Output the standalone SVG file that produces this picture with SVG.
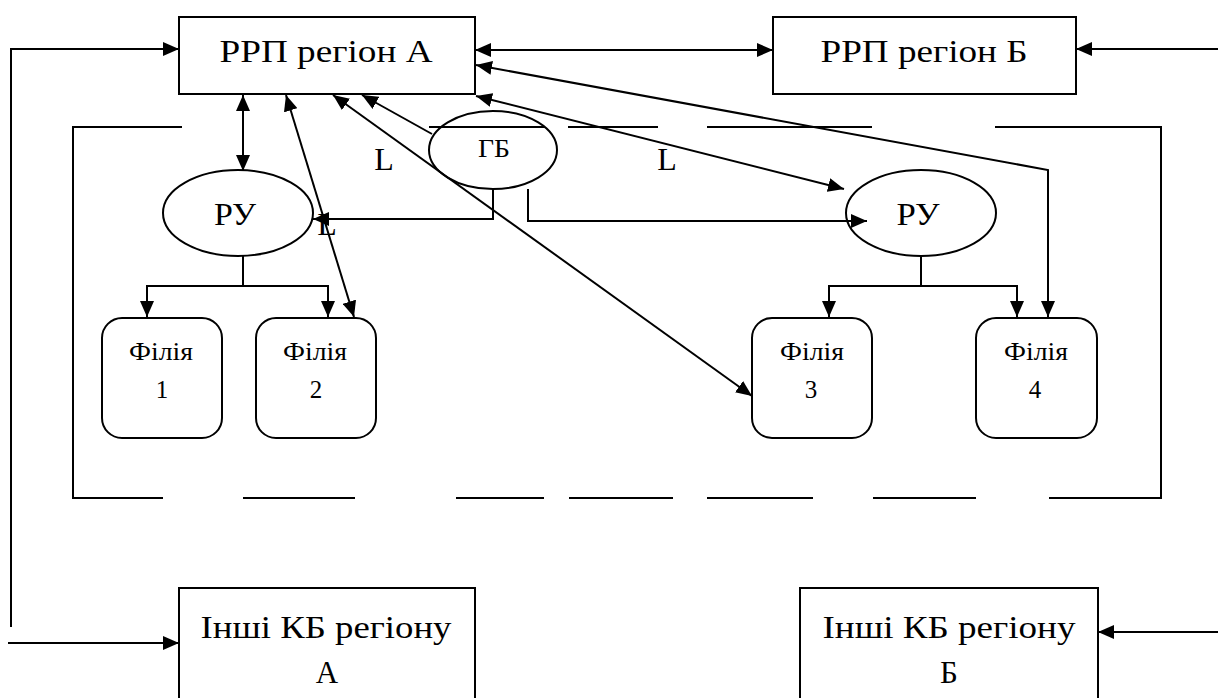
<svg xmlns="http://www.w3.org/2000/svg" width="1218" height="698" viewBox="0 0 1218 698" font-family="'Liberation Serif', 'Times New Roman', serif">
  <style>
    .box { fill: #fff; stroke: #000; stroke-width: 2; }
    .oval { fill: none; stroke: #000; stroke-width: 2; }
    .frame { fill: none; stroke: #000; stroke-width: 2; }
    .ln { fill: none; stroke: #000; stroke-width: 2; }
    .arr { marker-end: url(#ah); }
    .arr2 { marker-start: url(#ah); marker-end: url(#ah); }
    .arrS { marker-start: url(#ah); }
    text { font-family: "Liberation Serif", "Times New Roman", serif; fill: #000; text-anchor: middle; }
    .big { font-size: 32px; }
    .mid { font-size: 31px; }
    .small { font-size: 25px; }
  </style>
  <defs>
    <marker id="ah" viewBox="0 0 16 14" refX="16" refY="7" markerWidth="16" markerHeight="14" orient="auto-start-reverse" markerUnits="userSpaceOnUse">
      <path d="M0,0 L16,7 L0,14 z" fill="#000"/>
    </marker>
  </defs>
  <rect width="1218" height="698" fill="#fff"/>

  <!-- dashed boundary of the bank's network -->
  <g id="boundary" class="frame">
    <path d="M182,127 H73 V498 H163"/>
    <path d="M429,127 H545 M568,127 H658 M707,127 H872"/>
    <path d="M995,127 H1161 V498 H1049"/>
    <path d="M243,498 H355 M456,498 H544 M569,498 H673 M707,498 H813 M873,498 H976"/>
  </g>

  <g id="rrp-a">
    <rect class="box" x="179" y="17" width="296" height="77"/>
    <text class="big" x="326" y="62" textLength="213" lengthAdjust="spacingAndGlyphs">РРП регіон А</text>
  </g>
  <g id="rrp-b">
    <rect class="box" x="773" y="17" width="303" height="77"/>
    <text class="big" x="924" y="62" textLength="207" lengthAdjust="spacingAndGlyphs">РРП регіон Б</text>
  </g>

  <g id="gb">
    <ellipse class="oval" cx="493" cy="150" rx="64" ry="39"/>
    <text class="small" x="494" y="157" textLength="32" lengthAdjust="spacingAndGlyphs">ГБ</text>
  </g>

  <g id="ru-left">
    <ellipse class="oval" cx="238" cy="213" rx="75" ry="43"/>
    <text class="big" x="235" y="225" textLength="42" lengthAdjust="spacingAndGlyphs">РУ</text>
  </g>
  <g id="ru-right">
    <ellipse class="oval" cx="921" cy="213" rx="75" ry="43"/>
    <text class="big" x="918" y="225" textLength="43" lengthAdjust="spacingAndGlyphs">РУ</text>
  </g>

  <g id="filia-1">
    <rect class="box" x="102" y="318" width="120" height="120" rx="20"/>
    <text class="small" x="161" y="360" textLength="64" lengthAdjust="spacingAndGlyphs">Філія</text>
    <text class="small" x="162" y="398">1</text>
  </g>
  <g id="filia-2">
    <rect class="box" x="256" y="318" width="120" height="120" rx="20"/>
    <text class="small" x="315" y="360" textLength="64" lengthAdjust="spacingAndGlyphs">Філія</text>
    <text class="small" x="316" y="398">2</text>
  </g>
  <g id="filia-3">
    <rect class="box" x="752" y="318" width="120" height="120" rx="20"/>
    <text class="small" x="812" y="360" textLength="64" lengthAdjust="spacingAndGlyphs">Філія</text>
    <text class="small" x="811" y="398">3</text>
  </g>
  <g id="filia-4">
    <rect class="box" x="976" y="318" width="121" height="120" rx="20"/>
    <text class="small" x="1036" y="360" textLength="64" lengthAdjust="spacingAndGlyphs">Філія</text>
    <text class="small" x="1035" y="398">4</text>
  </g>

  <g id="other-a">
    <rect class="box" x="179" y="588" width="296" height="130"/>
    <text class="mid" x="326" y="638" textLength="251" lengthAdjust="spacingAndGlyphs">Інші КБ регіону</text>
    <text class="mid" x="327" y="683">А</text>
  </g>
  <g id="other-b">
    <rect class="box" x="800" y="588" width="298" height="130"/>
    <text class="mid" x="949" y="638" textLength="253" lengthAdjust="spacingAndGlyphs">Інші КБ регіону</text>
    <text class="mid" x="949" y="683">Б</text>
  </g>

  <!-- connectors, drawn over the nodes so arrow tips stay visible -->
  <g id="connectors" class="ln">
    <path class="arr" d="M11,627 V49 H179"/>
    <path class="arr" d="M1218,49 H1076"/>
    <path class="arr2" d="M475,50 H773"/>
    <path class="arr2" d="M243,95 V171"/>
    <path class="arr2" d="M286,95 L354,317"/>
    <path class="arr2" d="M333,95 L752,396"/>
    <path class="arrS" d="M362,95 L432,134"/>
    <path class="arr2" d="M476,96 L844,189"/>
    <path class="arr2" d="M476,65 L1048,170 V317"/>
    <path class="arr" d="M493,189 V219 H313"/>
    <path class="arr" d="M528,189 V221 H867"/>
    <path d="M243,256 V286"/>
    <path class="arr" d="M243,286 H147 V317"/>
    <path class="arr" d="M243,286 H328 V317"/>
    <path d="M921,256 V286"/>
    <path class="arr" d="M921,286 H829 V317"/>
    <path class="arr" d="M921,286 H1017 V317"/>
    <path class="arr" d="M8,643 H179"/>
    <path class="arr" d="M1218,632 H1098"/>
  </g>

  <!-- distance labels -->
  <g id="labels">
    <text class="big" x="384" y="170">L</text>
    <text class="big" x="667" y="170">L</text>
    <text class="big" x="327" y="235">L</text>
  </g>
</svg>
